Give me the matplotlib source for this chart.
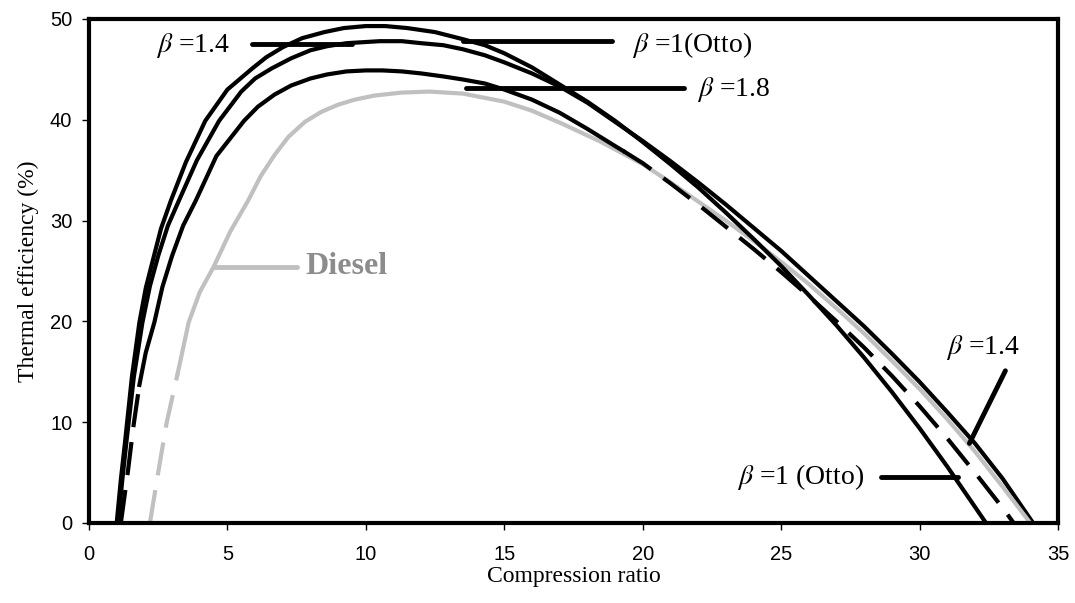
import numpy as np
import matplotlib
matplotlib.use('Agg')
import matplotlib.pyplot as plt

# values
otto_x = [1.0, 1.15, 1.3, 1.55, 1.82, 2.05, 2.3, 2.6, 2.96, 3.5, 4.2, 5.0, 5.9, 6.4, 7.0, 7.7,
          8.5, 9.2, 10.0, 10.7, 11.5, 12.5, 13.5, 14.3, 15, 16, 17, 18, 19, 20, 21, 22, 23, 24,
          25, 26, 27, 28, 29, 30, 31, 32, 32.4]
otto_y = [0, 4.3, 8, 14.5, 19.9, 23.3, 26, 29.2, 32, 35.8, 39.9, 43, 45.1, 46.2, 47.2, 48.1,
          48.7, 49.1, 49.3, 49.3, 49.1, 48.7, 48.0, 47.4, 46.6, 45.2, 43.5, 41.8, 39.9, 37.8,
          35.6, 33.3, 30.8, 28.2, 25.5, 22.6, 19.6, 16.4, 13.0, 9.4, 5.6, 1.6, 0]

b14_x = [1.05, 1.2, 1.35, 1.62, 1.93, 2.2, 2.5, 2.85, 3.25, 3.9, 4.7, 5.5, 6.0, 6.6, 7.3,
         8.0, 8.6, 9.3, 10.5, 11.3, 12, 12.8, 13.5, 14.3, 15, 16, 17, 18, 19, 20, 21, 22, 23,
         24, 25, 26, 27, 28, 29, 30, 31, 32, 33, 34.1]
b14_y = [0, 4.2, 8, 14.5, 19.9, 23.5, 26.5, 29.5, 32, 36, 39.9, 42.8, 44.1, 45.1, 46.1,
         46.9, 47.3, 47.6, 47.8, 47.8, 47.6, 47.4, 47.0, 46.4, 45.7, 44.6, 43.3, 41.7, 39.8,
         37.9, 35.9, 33.8, 31.6, 29.3, 27.0, 24.5, 22.0, 19.5, 16.8, 14.0, 11.0, 7.9, 4.4, 0]

b18_x = [1.15, 1.4, 1.6, 1.82, 2.05, 2.36, 2.65, 3.0, 3.4, 3.86, 4.6, 5.6, 6.1, 6.7, 7.3,
         8.0, 8.6, 9.3, 10.0, 10.6, 11.3, 12, 12.8, 13.5, 14.3, 15, 16, 17, 18, 19, 19.3, 20,
         21, 22, 23, 24, 25, 26, 27, 28, 29, 30, 31, 32, 33, 33.4]
b18_y = [0, 5, 9.5, 13.7, 16.9, 19.9, 23.4, 26.5, 29.5, 32, 36.4, 39.9, 41.3, 42.5, 43.4,
         44.1, 44.5, 44.8, 44.9, 44.9, 44.8, 44.6, 44.3, 44.0, 43.6, 43.0, 42.0, 40.7, 39.1,
         37.4, 36.9, 35.7, 33.7, 31.6, 29.4, 27.2, 24.9, 22.5, 20.0, 17.4, 14.6, 11.6, 8.4,
         5.0, 1.5, 0]
b18_solid = (1.82, 19.3)

diesel_x = [2.2, 2.5, 2.8, 3.2, 3.6, 4.0, 4.5, 5.1, 5.75, 6.2, 6.7, 7.2, 7.8, 8.4, 9.0,
            9.6, 10.3, 11.3, 12.3, 13.5, 15, 16, 17.1, 18.5, 20, 21, 22, 23, 24, 25, 26, 27,
            28, 29, 30, 31, 32, 33, 34.0]
diesel_y = [0, 5, 9.9, 14.8, 19.9, 22.9, 25.4, 28.9, 32, 34.4, 36.5, 38.3, 39.8, 40.8, 41.5,
            42.0, 42.4, 42.7, 42.8, 42.6, 41.8, 40.9, 39.6, 37.8, 35.6, 33.8, 31.9, 30.0,
            28.0, 25.9, 23.7, 21.3, 18.8, 16.1, 13.3, 10.3, 7.1, 3.6, 0]
diesel_solid_from = 3.2

plt.rcParams['mathtext.fontset'] = 'stix'

fig = plt.figure(figsize=(10.75, 6.03), dpi=100)
ax = fig.add_axes([89/1075, 1 - 523/603, (1058 - 89)/1075, (523 - 19)/603])

gray = '#c0c0c0'
dash = (0, (8, 3.6))

ax.plot(b14_x, b14_y, color='black', lw=3, solid_joinstyle='round')

dx = np.array(diesel_x)
dy = np.array(diesel_y)
m = dx <= diesel_solid_from
ax.plot(dx[m], dy[m], color=gray, lw=3, linestyle=dash)
ax.plot(dx[dx >= diesel_solid_from], dy[dx >= diesel_solid_from], color=gray, lw=3,
        solid_joinstyle='round')

ax.plot(otto_x, otto_y, color='black', lw=3, solid_joinstyle='round')

bx = np.array(b18_x)
by = np.array(b18_y)
lo = bx <= b18_solid[0]
mid = (bx >= b18_solid[0]) & (bx <= b18_solid[1])
hi = bx >= b18_solid[1]
ax.plot(bx[lo], by[lo], color='black', lw=3, linestyle=dash)
ax.plot(bx[mid], by[mid], color='black', lw=3, solid_joinstyle='round')
ax.plot(bx[hi], by[hi], color='black', lw=3, linestyle=dash)

# pointer lines and labels
serif = 'Liberation Serif'
ax.plot([5.9, 9.5], [47.5, 47.5], color='black', lw=3.5, solid_capstyle='round')
ax.text(5.1, 47.4, r'$\beta$ =1.4', ha='right', va='center', fontsize=20, family=serif)

ax.plot([13.5, 18.9], [47.8, 47.8], color='black', lw=3.5, solid_capstyle='round')
ax.text(19.6, 47.4, r'$\beta$ =1(Otto)', ha='left', va='center', fontsize=20, family=serif)

ax.plot([13.6, 21.5], [43.2, 43.2], color='black', lw=3.5, solid_capstyle='round')
ax.text(21.95, 43.0, r'$\beta$ =1.8', ha='left', va='center', fontsize=20, family=serif)

ax.plot([4.5, 7.5], [25.4, 25.4], color=gray, lw=3.5, solid_capstyle='round')
ax.text(7.8, 25.4, 'Diesel', ha='left', va='center', fontsize=23, family=serif,
        fontweight='bold', color='#8c8c8c')

ax.plot([31.8, 33.1], [7.9, 15.1], color='black', lw=3.5, solid_capstyle='round')
ax.text(32.3, 17.4, r'$\beta$ =1.4', ha='center', va='center', fontsize=20, family=serif)

ax.plot([28.6, 31.4], [4.6, 4.6], color='black', lw=3.5, solid_capstyle='round')
ax.text(28.0, 4.6, r'$\beta$ =1 (Otto)', ha='right', va='center', fontsize=20, family=serif)

ax.set_xlim(0, 35)
ax.set_ylim(0, 50)
ax.set_xticks(range(0, 36, 5))
ax.set_yticks(range(0, 51, 10))
for s in ax.spines.values():
    s.set_linewidth(3)
ax.tick_params(axis='x', direction='out', length=5, width=1, labelsize=14.5, pad=11)
ax.tick_params(axis='y', direction='out', length=5, width=1, labelsize=14.5, pad=7)
for lab in ax.get_xticklabels() + ax.get_yticklabels():
    lab.set_family('Liberation Sans')

ax.set_xlabel('Compression ratio', family=serif, fontsize=17, labelpad=1)
ax.set_ylabel('Thermal efficiency (%)', family=serif, fontsize=17, labelpad=8)

fig.savefig('out.png', dpi=100)
